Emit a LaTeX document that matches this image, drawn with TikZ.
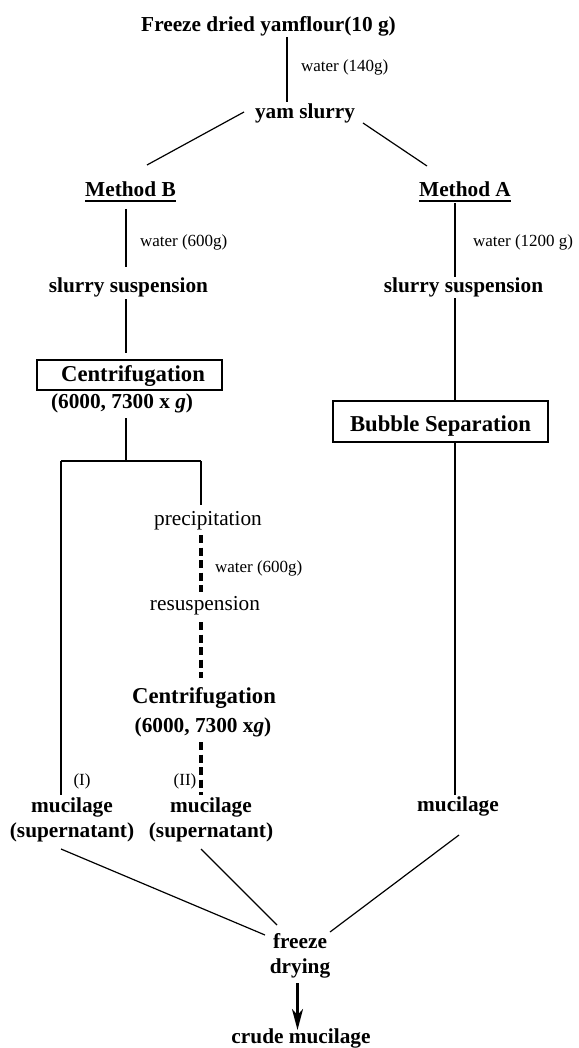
\documentclass[tikz,border=0pt]{standalone}
\usepackage{fontspec}
\setmainfont{Liberation Serif}
\usetikzlibrary{arrows.meta}
\begin{document}
\begin{tikzpicture}[x=1pt,y=-1pt,
  txt/.style={inner sep=0pt,outer sep=0pt,anchor=base,font=\fontsize{21.3}{25}\selectfont\bfseries,align=center},
  reg/.style={inner sep=0pt,outer sep=0pt,anchor=base,font=\fontsize{21.3}{25}\selectfont},
  small/.style={inner sep=0pt,outer sep=0pt,anchor=base west,font=\fontsize{17}{20}\selectfont},
  boxed/.style={draw,line width=1.2pt,inner xsep=0pt,inner ysep=0pt,outer sep=0pt,anchor=base,font=\fontsize{22.7}{26}\selectfont\bfseries},
  big/.style={inner sep=0pt,outer sep=0pt,anchor=base,font=\fontsize{22.7}{26}\selectfont\bfseries},
  ln/.style={line width=1.2pt},
  dln/.style={line width=3.2pt,dash pattern=on 8pt off 4.5pt},
  arr/.style={line width=2.6pt,-{Stealth[length=21pt,width=11pt,inset=6pt]}},
  ul/.style={line width=1.2pt}]
\useasboundingbox (0,0) rectangle (578,1048);
% nodes
\node[txt] (top) at (268.5,32) {Freeze dried yamflour(10 g)};
\node[small] (w1) at (301,72) {water (140g)};
\node[txt] (yam) at (305,119) {yam slurry};
\node[txt] (mb) at (130.5,197) {Method B};
\node[txt] (ma) at (465,197) {Method A};
\node[small] (w2) at (140,247) {water (600g)};
\node[small] (w3) at (473,247) {water (1200 g)};
\node[txt] (ssb) at (128.5,293) {slurry suspension};
\node[txt] (ssa) at (463.5,293) {slurry suspension};
\node[boxed,minimum width=185pt,text height=21pt,text depth=9pt] (cb) at (129.5,381) {\hspace*{7pt}Centrifugation};
\node[txt] (cbg) at (122,408) {(6000, 7300 x \textit{g})};
\node[boxed,minimum width=215pt,text height=30pt,text depth=11pt] (bub) at (440.5,431) {Bubble Separation};
\node[reg] (prec) at (208,525) {precipitation};
\node[small] (w4) at (215,572) {water (600g)};
\node[reg] (res) at (205,610) {resuspension};
\node[big] (c2) at (204,703) {Centrifugation};
\node[txt] (c2g) at (203,732) {(6000, 7300 x\textit{g})};
\node[small,anchor=base] (l1) at (82,785) {(I)};
\node[small,anchor=base] (l2) at (185,785) {(II)};
\node[txt] (m1) at (72,837) {mucilage\\(supernatant)};
\node[txt] (m2) at (211,837) {mucilage\\(supernatant)};
\node[txt] (m3) at (458,811) {mucilage};
\node[txt] (fd) at (300,973) {freeze\\drying};
\node[txt] (crude) at (301,1043) {crude mucilage};
% underlines
\draw[ul] ([yshift=-4pt]mb.base west) -- ([yshift=-4pt]mb.base east);
\draw[ul] ([yshift=-4pt]ma.base west) -- ([yshift=-4pt]ma.base east);
% junction coordinates
\coordinate (jc) at (126,461);
\coordinate (jl) at (61,461);
\coordinate (jr) at (201,461);
% connectors
\draw[ln] ([yshift=-5pt]top.base -| 287,0) -- ([yshift=17pt]yam.base -| 287,0);
\draw[ln] ([xshift=-11pt,yshift=7pt]yam.base west) -- ([xshift=16.5pt,yshift=32pt]mb.base);
\draw[ln] ([xshift=8pt,yshift=-4pt]yam.base east) -- ([xshift=-38pt,yshift=31pt]ma.base);
\draw[ln] ([yshift=-12pt]mb.base -| 126,0) -- ([yshift=26pt]ssb.base -| 126,0);
\draw[ln] ([yshift=-6pt]ma.base -| 455,0) -- ([yshift=16pt]ssa.base -| 455,0);
\draw[ln] ([yshift=-6pt]ssb.base -| 126,0) -- ([yshift=7pt]cb.north -| 126,0);
\draw[ln] ([yshift=-5pt]ssa.base -| 455,0) -- (bub.north -| 455,0);
\draw[ln] ([yshift=-10pt]cbg.base -| 126,0) -- (jc);
\draw[ln] (jl) -- (jr);
\draw[ln] (jr) -- ([yshift=20pt]prec.base -| 201,0);
\draw[ln] (jl) -- ([yshift=-10pt]l1.base -| 61,0);
\draw[dln] ([yshift=-10pt]prec.base -| 201,0) -- ([yshift=18pt]res.base -| 201,0);
\draw[dln] ([yshift=-12pt]res.base -| 201,0) -- ([yshift=25pt]c2.base -| 201,0);
\draw[dln] ([yshift=-10pt]c2g.base -| 201,0) -- ([yshift=-10pt]l2.base -| 201,0);
\draw[ln] (bub.south -| 455,0) -- ([yshift=16pt]m3.base -| 455,0);
\draw[ln] ([xshift=-11pt,yshift=-12pt]m1.base) -- ([xshift=-35pt,yshift=38pt]fd.base);
\draw[ln] ([xshift=-10pt,yshift=-12pt]m2.base) -- ([xshift=-23pt,yshift=48pt]fd.base);
\draw[ln] ([xshift=1pt,yshift=-24pt]m3.base) -- ([xshift=30pt,yshift=41pt]fd.base);
\draw[arr] ([xshift=-2.5pt,yshift=-10pt]fd.base) -- ([yshift=13pt]crude.base -| 297.5,0);
\end{tikzpicture}
\end{document}
